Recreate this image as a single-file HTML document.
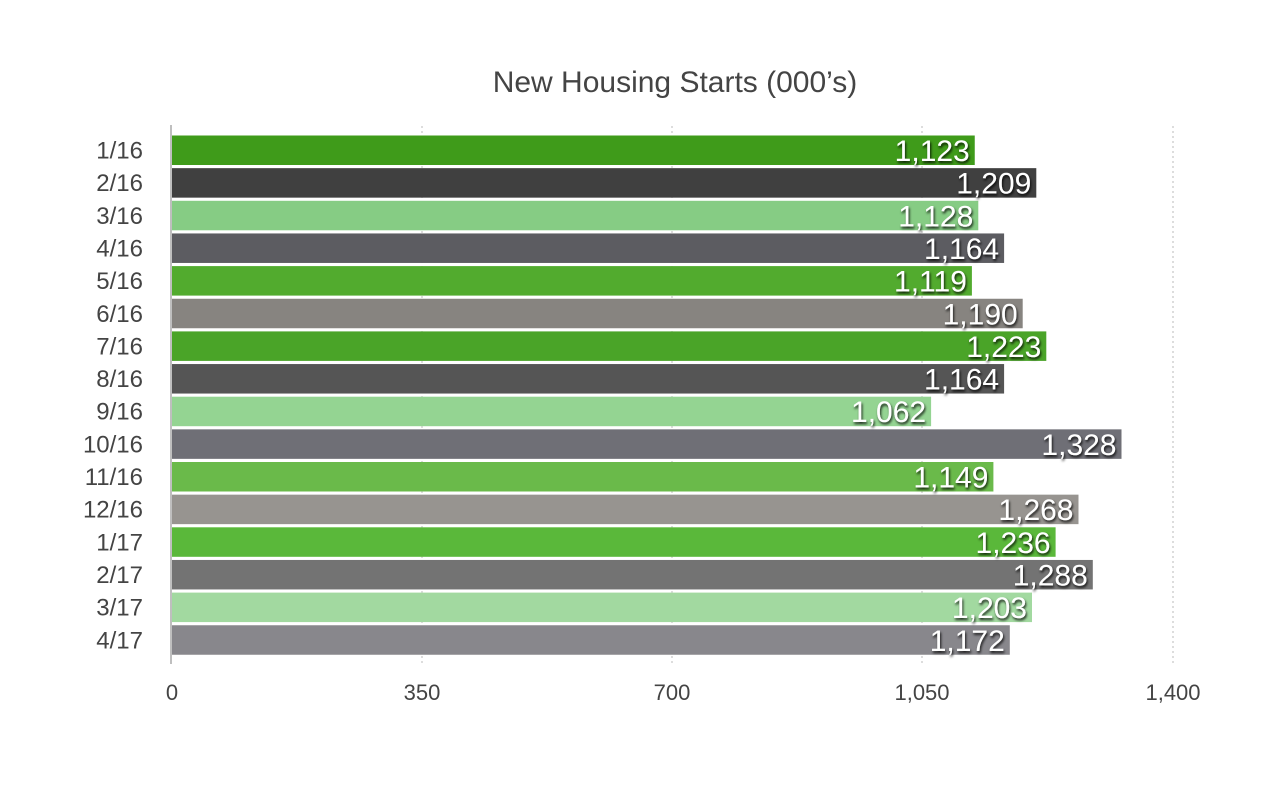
<!DOCTYPE html>
<html><head><meta charset="utf-8"><style>
body{margin:0;background:#fff;}
</style></head><body>
<svg width="1280" height="782" xmlns="http://www.w3.org/2000/svg" font-family="Liberation Sans, sans-serif">
<rect width="1280" height="782" fill="#fff"/>
<text x="675" y="92" font-size="30" fill="#444" text-anchor="middle">New Housing Starts (000’s)</text>
<g stroke="#bbb" stroke-dasharray="2,3" stroke-width="1">
<line x1="422" y1="126" x2="422" y2="664"/>
<line x1="672" y1="126" x2="672" y2="664"/>
<line x1="922" y1="126" x2="922" y2="664"/>
<line x1="1173" y1="126" x2="1173" y2="664"/>
</g>
<defs><filter id="sh" x="-20%" y="-20%" width="140%" height="160%"><feDropShadow dx="1" dy="2" stdDeviation="1.2" flood-color="#000" flood-opacity="0.85"/></filter></defs>
<g>
<rect x="172" y="135.5" width="802.75" height="29.5" fill="#3f9b1a"/>
<rect x="172" y="168.15" width="864.3" height="29.5" fill="#404040"/>
<rect x="172" y="200.8" width="806.3" height="29.5" fill="#86cc84"/>
<rect x="172" y="233.45" width="832.1" height="29.5" fill="#5c5c61"/>
<rect x="172" y="266.1" width="799.9" height="29.5" fill="#52ab2e"/>
<rect x="172" y="298.75" width="850.7" height="29.5" fill="#878480"/>
<rect x="172" y="331.4" width="874.3" height="29.5" fill="#4aa428"/>
<rect x="172" y="364.05" width="832.1" height="29.5" fill="#555555"/>
<rect x="172" y="396.7" width="759.1" height="29.5" fill="#94d492"/>
<rect x="172" y="429.35" width="949.5" height="29.5" fill="#6f6f76"/>
<rect x="172" y="462" width="821.4" height="29.5" fill="#6aba4a"/>
<rect x="172" y="494.65" width="906.5" height="29.5" fill="#979490"/>
<rect x="172" y="527.3" width="883.6" height="29.5" fill="#5ab83a"/>
<rect x="172" y="559.95" width="920.8" height="29.5" fill="#737373"/>
<rect x="172" y="592.6" width="860" height="29.5" fill="#a2d9a0"/>
<rect x="172" y="625.25" width="837.8" height="29.5" fill="#88878c"/>
</g>
<g font-size="24" fill="#444" text-anchor="end">
<text x="143" y="158.5">1/16</text>
<text x="143" y="191.15">2/16</text>
<text x="143" y="223.8">3/16</text>
<text x="143" y="256.45">4/16</text>
<text x="143" y="289.1">5/16</text>
<text x="143" y="321.75">6/16</text>
<text x="143" y="354.4">7/16</text>
<text x="143" y="387.05">8/16</text>
<text x="143" y="419.7">9/16</text>
<text x="143" y="452.35">10/16</text>
<text x="143" y="485">11/16</text>
<text x="143" y="517.65">12/16</text>
<text x="143" y="550.3">1/17</text>
<text x="143" y="582.95">2/17</text>
<text x="143" y="615.6">3/17</text>
<text x="143" y="648.25">4/17</text>
</g>
<g font-size="30" fill="#fff" text-anchor="end" filter="url(#sh)">
<text x="969.75" y="161">1,123</text>
<text x="1031.3" y="193.65">1,209</text>
<text x="973.3" y="226.3">1,128</text>
<text x="999.1" y="258.95">1,164</text>
<text x="966.9" y="291.6">1,119</text>
<text x="1017.7" y="324.25">1,190</text>
<text x="1041.3" y="356.9">1,223</text>
<text x="999.1" y="389.55">1,164</text>
<text x="926.1" y="422.2">1,062</text>
<text x="1116.5" y="454.85">1,328</text>
<text x="988.4" y="487.5">1,149</text>
<text x="1073.5" y="520.15">1,268</text>
<text x="1050.6" y="552.8">1,236</text>
<text x="1087.8" y="585.45">1,288</text>
<text x="1027" y="618.1">1,203</text>
<text x="1004.8" y="650.75">1,172</text>
</g>
<line x1="171" y1="125" x2="171" y2="664" stroke="#aaa" stroke-width="1.5"/>
<g font-size="22" fill="#444" text-anchor="middle">
<text x="172" y="700">0</text><text x="422" y="700">350</text><text x="672" y="700">700</text><text x="922" y="700">1,050</text><text x="1173" y="700">1,400</text>
</g>
</svg>
</body></html>
